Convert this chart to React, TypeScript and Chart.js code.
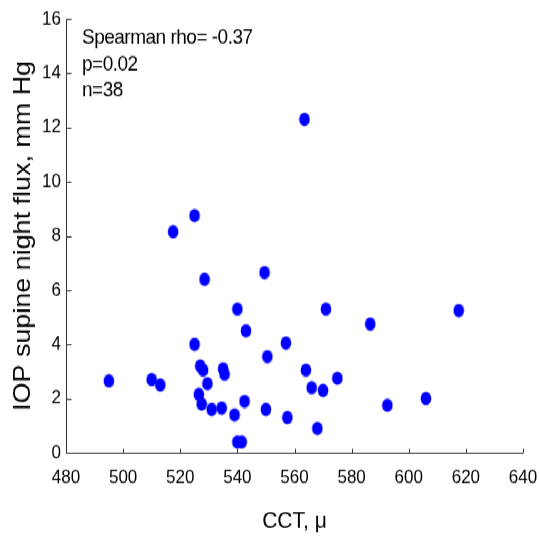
import React, { useEffect, useRef } from "react";
import { Chart, registerables } from "chart.js";

Chart.register(...registerables);

// ---- data ----
const cctValues = [
  495, 510, 513, 525, 528.5, 527, 528, 529.5, 526.5, 527.5,
  531, 534.5, 535, 535.5, 539, 542.5, 540, 543, 540, 541.5,
  549.5, 550, 550.5, 557, 557.5, 564, 566, 568, 570, 571,
  575, 586.5, 592.5, 606, 617.5, 563.5, 525, 517.5,
];
const iopValues = [
  2.65, 2.7, 2.5, 4.0, 6.4, 3.2, 3.05, 2.55, 2.15, 1.8,
  1.6, 1.65, 3.1, 2.9, 1.4, 1.9, 5.3, 4.5, 0.4, 0.4,
  6.65, 1.6, 3.55, 4.05, 1.3, 3.05, 2.4, 0.9, 2.3, 5.3,
  2.75, 4.75, 1.75, 2.0, 5.25, 12.3, 8.75, 8.15,
];
const xRange = [480, 640];
const xStep = 20;
const yRange = [0, 16];
const yStep = 2;
const annotationLines = ["Spearman rho= -0.37", "p=0.02", "n=38"];
const xTitle = "CCT, \u03bc";
const yTitle = "IOP supine night flux, mm Hg";

const FONT = "'Liberation Sans', Arial, Helvetica, sans-serif";
const CANVAS_W = 539;
const CANVAS_H = 480;
const STRETCH = 538 / CANVAS_H;

export default function App() {
  const ref = useRef<HTMLCanvasElement | null>(null);

  useEffect(() => {
    const canvas = ref.current;
    if (!canvas) return;

    const marker = document.createElement("canvas");
    marker.width = 12;
    marker.height = 13;
    const mctx = marker.getContext("2d")!;
    mctx.fillStyle = "#0000ff";
    mctx.beginPath();
    mctx.ellipse(6, 6.5, 5.3, 6, 0, 0, Math.PI * 2);
    mctx.fill();

    const axesPlugin = {
      id: "innerAxes",
      beforeDatasetsDraw(chart: any) {
        const { ctx, chartArea } = chart;
        const xs = chart.scales.x;
        const ys = chart.scales.y;
        const left = Math.round(chartArea.left) + 0.5;
        const bottom = Math.round(chartArea.bottom) + 0.5;
        ctx.save();
        ctx.strokeStyle = "#333333";
        ctx.lineWidth = 1;
        ctx.beginPath();
        ctx.moveTo(left, ys.getPixelForValue(yRange[1]));
        ctx.lineTo(left, bottom);
        ctx.lineTo(xs.getPixelForValue(xRange[1]), bottom);
        xs.ticks.forEach((t: any) => {
          const px = Math.round(xs.getPixelForValue(t.value)) + 0.5;
          ctx.moveTo(px, bottom);
          ctx.lineTo(px, bottom - 4);
        });
        ys.ticks.forEach((t: any) => {
          const py = Math.round(ys.getPixelForValue(t.value)) + 0.5;
          ctx.moveTo(left, py);
          ctx.lineTo(left + 5, py);
        });
        ctx.stroke();

        ctx.fillStyle = "#000000";
        ctx.font = `19px ${FONT}`;
        (ctx as any).letterSpacing = "-0.5px";
        ctx.textAlign = "left";
        ctx.textBaseline = "alphabetic";
        annotationLines.forEach((line, i) => {
          ctx.fillText(line, 82, 38.7 + i * 23.8);
        });
        ctx.restore();
      },
    };

    const chart = new Chart(canvas, {
      type: "scatter",
      data: {
        datasets: [
          {
            data: cctValues.map((x, i) => ({ x, y: iopValues[i] })),
            pointStyle: marker as any,
            backgroundColor: "#0000ff",
            borderColor: "#0000ff",
            clip: false as any,
          },
        ],
      },
      options: {
        responsive: false,
        animation: false,
        devicePixelRatio: 1,
        layout: { padding: { top: 17, right: 16, left: 0, bottom: 0 } },
        plugins: {
          legend: { display: false },
          tooltip: { enabled: false },
        },
        scales: {
          x: {
            type: "linear",
            min: xRange[0],
            max: xRange[1],
            ticks: {
              stepSize: xStep,
              color: "#000000",
              font: { family: FONT, size: 17 },
              padding: 12,
              maxRotation: 0,
              autoSkip: false,
            },
            grid: { display: false, drawTicks: false },
            border: { display: false },
            title: {
              display: true,
              text: xTitle,
              color: "#000000",
              font: { family: FONT, size: 21 },
              padding: { top: 0, bottom: 2.6 },
            },
            afterFit: (s: any) => {
              s.height = 76;
              s.paddingLeft = 0;
              s.paddingRight = 0;
            },
          },
          y: {
            type: "linear",
            min: yRange[0],
            max: yRange[1],
            ticks: {
              stepSize: yStep,
              color: "#000000",
              font: { family: FONT, size: 17 },
              padding: 5,
              autoSkip: false,
            },
            grid: { display: false, drawTicks: false },
            border: { display: false },
            title: {
              display: true,
              text: yTitle,
              color: "#000000",
              font: { family: FONT, size: 24 },
              padding: { top: 8.5, bottom: 0 },
            },
            afterFit: (s: any) => {
              s.width = 66;
              s.paddingTop = 0;
              s.paddingBottom = 0;
            },
          },
        },
      },
      plugins: [axesPlugin],
    });

    return () => chart.destroy();
  }, []);

  return (
    <div
      style={{
        position: "absolute",
        left: 0,
        top: 0,
        width: CANVAS_W,
        height: CANVAS_H,
        transform: `scaleY(${STRETCH})`,
        transformOrigin: "0 0",
        background: "#ffffff",
      }}
    >
      <canvas ref={ref} width={CANVAS_W} height={CANVAS_H} />
    </div>
  );
}
